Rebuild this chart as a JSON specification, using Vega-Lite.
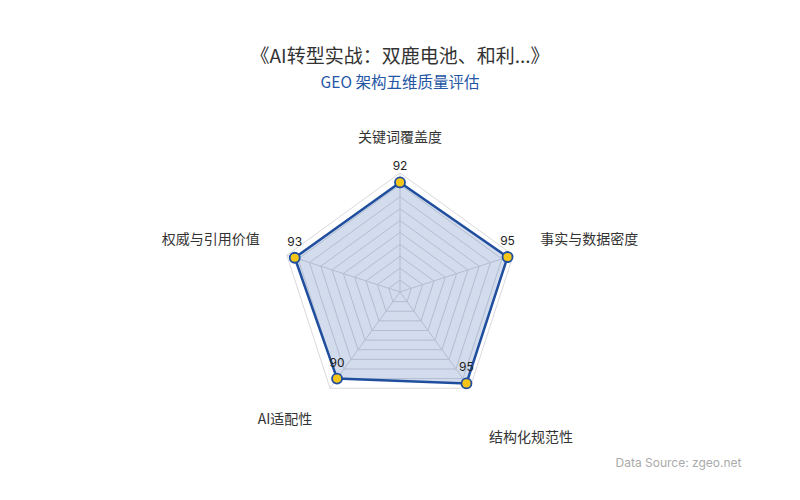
{
  "$schema": "https://vega.github.io/schema/vega-lite/v6.json",
  "width": 800,
  "height": 350,
  "autosize": "none",
  "padding": {"top": 100, "left": 0, "right": 0, "bottom": 50},
  "background": "white",
  "config": {
    "view": {"stroke": null},
    "font": "Noto Sans CJK SC"
  },
  "title": {
    "text": "《AI转型实战：双鹿电池、和利...》",
    "subtitle": "GEO 架构五维质量评估",
    "fontSize": 19,
    "fontWeight": "normal",
    "color": "#333333",
    "subtitleFontSize": 15.5,
    "subtitleColor": "#2456a4",
    "subtitlePadding": 9,
    "offset": 9,
    "anchor": "middle"
  },
  "data": {
    "values": [
      {"axis": "关键词覆盖度", "score": 92},
      {"axis": "事实与数据密度", "score": 95},
      {"axis": "结构化规范性", "score": 95},
      {"axis": "AI适配性", "score": 90},
      {"axis": "权威与引用价值", "score": 93}
    ]
  },
  "transform": [
    {"window": [{"op": "row_number", "as": "k"}]},
    {"calculate": "(datum.k - 1) * 2 * PI / 5", "as": "a"},
    {"calculate": "datum.score * sin(datum.a)", "as": "x"},
    {"calculate": "datum.score * cos(datum.a)", "as": "y"},
    {"calculate": "100 * sin(datum.a)", "as": "xr"},
    {"calculate": "100 * cos(datum.a)", "as": "yr"}
  ],
  "encoding": {
    "x": {
      "field": "x",
      "type": "quantitative",
      "scale": {"domain": [-336.1, 336.1], "nice": false, "zero": false},
      "axis": {
        "title": "Data Source: zgeo.net",
        "domain": false,
        "ticks": false,
        "labels": false,
        "grid": false,
        "titleFont": "Inter",
        "titleFontSize": 12,
        "titleFontWeight": "normal",
        "titleColor": "#aaaaaa",
        "titleAlign": "right",
        "titleBaseline": "middle",
        "titleX": 741,
        "titleY": 12
      }
    },
    "y": {
      "field": "y",
      "type": "quantitative",
      "scale": {"domain": [-132.8, 161.3], "nice": false, "zero": false},
      "axis": null
    }
  },
  "layer": [
    {
      "data": {
        "values": [
          {"level": 10, "ax": [0, 1, 2, 3, 4]},
          {"level": 20, "ax": [0, 1, 2, 3, 4]},
          {"level": 30, "ax": [0, 1, 2, 3, 4]},
          {"level": 40, "ax": [0, 1, 2, 3, 4]},
          {"level": 50, "ax": [0, 1, 2, 3, 4]},
          {"level": 60, "ax": [0, 1, 2, 3, 4]},
          {"level": 70, "ax": [0, 1, 2, 3, 4]},
          {"level": 80, "ax": [0, 1, 2, 3, 4]},
          {"level": 90, "ax": [0, 1, 2, 3, 4]},
          {"level": 100, "ax": [0, 1, 2, 3, 4]}
        ]
      },
      "transform": [
        {"flatten": ["ax"]},
        {"calculate": "datum.level * sin(datum.ax * 2 * PI / 5)", "as": "x"},
        {"calculate": "datum.level * cos(datum.ax * 2 * PI / 5)", "as": "y"}
      ],
      "mark": {"type": "line", "interpolate": "linear-closed", "stroke": "#d9d9de", "strokeWidth": 1},
      "encoding": {
        "detail": {"field": "level", "type": "ordinal"},
        "order": {"field": "ax", "type": "quantitative"}
      }
    },
    {
      "mark": {"type": "rule", "stroke": "#d9d9de", "strokeWidth": 1},
      "encoding": {
        "x": {"datum": 0},
        "y": {"datum": 0},
        "x2": {"field": "xr"},
        "y2": {"field": "yr"}
      }
    },
    {
      "mark": {
        "type": "line",
        "interpolate": "linear-closed",
        "stroke": "#1f4e9f",
        "strokeWidth": 2.5,
        "fill": "#1f4e9f",
        "fillOpacity": 0.2
      },
      "encoding": {
        "order": {"field": "k", "type": "quantitative"}
      }
    },
    {
      "mark": {
        "type": "point",
        "filled": true,
        "fill": "#f5c518",
        "stroke": "#1f4e9f",
        "strokeWidth": 1.8,
        "size": 100,
        "opacity": 1
      },
      "encoding": {}
    },
    {
      "mark": {"type": "text", "dy": -16, "fontSize": 12, "color": "#222222", "font": "Inter"},
      "encoding": {"text": {"field": "score", "type": "quantitative"}}
    },
    {
      "transform": [{"filter": "datum.axis === '关键词覆盖度'"}],
      "mark": {"type": "text", "align": "center", "baseline": "middle", "dy": -35, "fontSize": 14, "color": "#333333"},
      "encoding": {
        "x": {"field": "xr", "type": "quantitative"},
        "y": {"field": "yr", "type": "quantitative"},
        "text": {"field": "axis"}
      }
    },
    {
      "transform": [{"filter": "datum.axis === '事实与数据密度'"}],
      "mark": {"type": "text", "align": "left", "baseline": "middle", "dx": 27, "dy": -15, "fontSize": 14, "color": "#333333"},
      "encoding": {
        "x": {"field": "xr", "type": "quantitative"},
        "y": {"field": "yr", "type": "quantitative"},
        "text": {"field": "axis"}
      }
    },
    {
      "transform": [{"filter": "datum.axis === '结构化规范性'"}],
      "mark": {"type": "text", "align": "center", "baseline": "middle", "dx": 61, "dy": 50, "fontSize": 14, "color": "#333333"},
      "encoding": {
        "x": {"field": "xr", "type": "quantitative"},
        "y": {"field": "yr", "type": "quantitative"},
        "text": {"field": "axis"}
      }
    },
    {
      "transform": [{"filter": "datum.axis === 'AI适配性'"}],
      "mark": {"type": "text", "align": "center", "baseline": "middle", "dx": -45, "dy": 32, "fontSize": 14, "color": "#333333"},
      "encoding": {
        "x": {"field": "xr", "type": "quantitative"},
        "y": {"field": "yr", "type": "quantitative"},
        "text": {"field": "axis"}
      }
    },
    {
      "transform": [{"filter": "datum.axis === '权威与引用价值'"}],
      "mark": {"type": "text", "align": "right", "baseline": "middle", "dx": -27, "dy": -15, "fontSize": 14, "color": "#333333"},
      "encoding": {
        "x": {"field": "xr", "type": "quantitative"},
        "y": {"field": "yr", "type": "quantitative"},
        "text": {"field": "axis"}
      }
    }
  ]
}
